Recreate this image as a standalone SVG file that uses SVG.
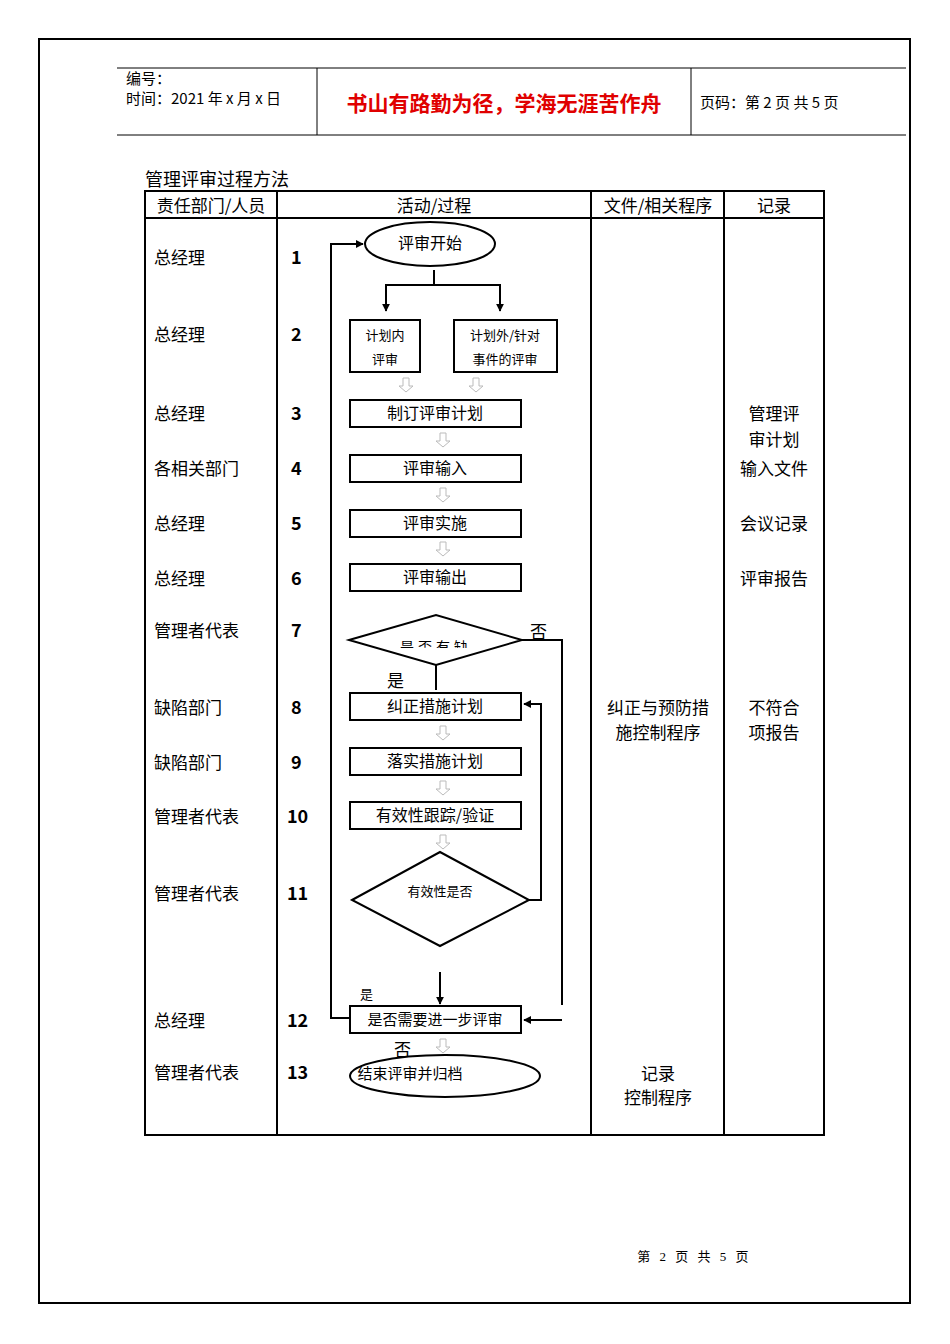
<svg xmlns="http://www.w3.org/2000/svg" width="950" height="1344" viewBox="0 0 950 1344">
<style>
text{font-family:"Noto Sans CJK SC","Liberation Sans",sans-serif;fill:#000}
.s{font-family:"Liberation Serif","Noto Sans CJK SC",serif}
.b{fill:#fff;stroke:#000;stroke-width:2}
.l{fill:none;stroke:#000;stroke-width:2}
.t{font-size:15px}
.n{font-family:"Liberation Sans",sans-serif;font-size:18px;font-weight:bold}
.bx{font-size:16px;text-anchor:middle}
</style>
<defs>
<marker id="a" viewBox="0 0 10 10" refX="9" refY="5" markerWidth="4" markerHeight="4" orient="auto"><path d="M0,0L10,5L0,10z" fill="#000"/></marker>
<symbol id="h" viewBox="0 0 16 16" width="16" height="16"><path d="M5,1H11V9H15L8,15L1,9H5Z" fill="#fff" stroke="#bbb" stroke-width="1"/></symbol>
<clipPath id="c"><rect x="380" y="630" width="120" height="18"/></clipPath>
</defs>
<rect x="39" y="39" width="871" height="1264" fill="none" stroke="#000" stroke-width="2"/>
<g id="header">
<line x1="117" y1="68" x2="906" y2="68" stroke="#000"/>
<line x1="117" y1="135" x2="906" y2="135" stroke="#000"/>
<line x1="317" y1="68" x2="317" y2="135" stroke="#000"/>
<line x1="691" y1="68" x2="691" y2="135" stroke="#000"/>
<text x="126" y="84" class="t">编号：</text>
<text x="126" y="104" class="t">时间：2021 年 x 月 x 日</text>
<text x="504" y="111" text-anchor="middle" style="font-size:21px;font-weight:bold;fill:#e00000">书山有路勤为径，学海无涯苦作舟</text>
<text x="700" y="108" class="t">页码：第 2 页  共 5 页</text>
</g>
<text x="145" y="186" class="s" style="font-size:18px">管理评审过程方法</text>
<g id="table">
<rect x="145" y="191" width="679" height="944" fill="none" stroke="#000" stroke-width="2"/>
<line x1="145" y1="218" x2="824" y2="218" stroke="#000" stroke-width="2"/>
<line x1="277" y1="191" x2="277" y2="1135" stroke="#000" stroke-width="2"/>
<line x1="591" y1="191" x2="591" y2="1135" stroke="#000" stroke-width="2"/>
<line x1="724" y1="191" x2="724" y2="1135" stroke="#000" stroke-width="2"/>
<g class="s" style="font-size:17px" text-anchor="middle">
<text x="211" y="212">责任部门/人员</text><text x="434" y="212">活动/过程</text><text x="658" y="212">文件/相关程序</text><text x="774" y="212">记录</text>
</g>
<g class="s" style="font-size:17px">
<text x="154" y="264">总经理</text><text x="154" y="341">总经理</text><text x="154" y="420">总经理</text><text x="154" y="475">各相关部门</text><text x="154" y="530">总经理</text><text x="154" y="585">总经理</text><text x="154" y="637">管理者代表</text><text x="154" y="714">缺陷部门</text><text x="154" y="769">缺陷部门</text><text x="154" y="823">管理者代表</text><text x="154" y="900">管理者代表</text><text x="154" y="1027">总经理</text><text x="154" y="1079">管理者代表</text>
</g>
<g class="n">
<text x="291" y="264">1</text><text x="291" y="341">2</text><text x="291" y="420">3</text><text x="291" y="475">4</text><text x="291" y="530">5</text><text x="291" y="585">6</text><text x="291" y="637">7</text><text x="291" y="714">8</text><text x="291" y="769">9</text><text x="287" y="823">10</text><text x="287" y="900">11</text><text x="287" y="1027">12</text><text x="287" y="1079">13</text>
</g>
<g class="s" style="font-size:17px" text-anchor="middle">
<text x="774" y="420">管理评</text><text x="774" y="446">审计划</text><text x="774" y="475">输入文件</text><text x="774" y="530">会议记录</text><text x="774" y="585">评审报告</text><text x="774" y="714">不符合</text><text x="774" y="739">项报告</text>
<text x="658" y="714">纠正与预防措</text><text x="658" y="739">施控制程序</text><text x="658" y="1080">记录</text><text x="658" y="1104">控制程序</text>
</g>
</g>
<g id="connectors">
<polyline class="l" points="434,270 434,285 386,285 386,311" marker-end="url(#a)"/>
<polyline class="l" points="434,285 500,285 500,311" marker-end="url(#a)"/>
<polyline class="l" points="350,1018 331,1018 331,244 363,244" marker-end="url(#a)"/>
<line class="l" x1="436" y1="665" x2="436" y2="690"/>
<polyline class="l" points="522,640 562,640 562,1005"/>
<line class="l" x1="562" y1="1020" x2="524" y2="1020" marker-end="url(#a)"/>
<polyline class="l" points="529,900 541,900 541,704 524,704" marker-end="url(#a)"/>
<line class="l" x1="440" y1="972" x2="440" y2="1004" marker-end="url(#a)"/>
<use href="#h" x="398" y="377"/><use href="#h" x="468" y="377"/><use href="#h" x="435" y="432"/><use href="#h" x="435" y="487"/><use href="#h" x="435" y="541"/><use href="#h" x="435" y="725"/><use href="#h" x="435" y="780"/><use href="#h" x="435" y="834"/><use href="#h" x="435" y="1038"/>
<text x="387" y="687" class="s" style="font-size:17px">是</text>
<text x="530" y="638" class="s" style="font-size:17px">否</text>
<text x="360" y="999" class="s" style="font-size:13px">是</text>
<text x="394" y="1056" class="s" style="font-size:17px">否</text>
</g>
<g id="n1"><ellipse class="b" cx="430" cy="244" rx="65" ry="22"/><text x="430" y="249" class="bx">评审开始</text></g>
<g id="n2a"><rect class="b" x="350" y="320" width="70" height="52"/><text x="385" y="340" class="bx" style="font-size:13px">计划内</text><text x="385" y="364" class="bx" style="font-size:13px">评审</text></g>
<g id="n2b"><rect class="b" x="454" y="320" width="103" height="52"/><text x="505" y="340" class="bx" style="font-size:13px">计划外/针对</text><text x="505" y="364" class="bx" style="font-size:13px">事件的评审</text></g>
<g id="n3"><rect class="b" x="350" y="400" width="171" height="27"/><text x="435" y="419" class="bx">制订评审计划</text></g>
<g id="n4"><rect class="b" x="350" y="455" width="171" height="27"/><text x="435" y="474" class="bx">评审输入</text></g>
<g id="n5"><rect class="b" x="350" y="510" width="171" height="27"/><text x="435" y="529" class="bx">评审实施</text></g>
<g id="n6"><rect class="b" x="350" y="564" width="171" height="27"/><text x="435" y="583" class="bx">评审输出</text></g>
<g id="n7"><polygon class="b" points="349,640 436,615 522,640 436,665"/><text x="436" y="652" class="bx" style="font-size:14px;letter-spacing:4px" clip-path="url(#c)">是否有缺</text></g>
<g id="n8"><rect class="b" x="350" y="693" width="171" height="27"/><text x="435" y="712" class="bx">纠正措施计划</text></g>
<g id="n9"><rect class="b" x="350" y="748" width="171" height="27"/><text x="435" y="767" class="bx">落实措施计划</text></g>
<g id="n10"><rect class="b" x="350" y="802" width="171" height="27"/><text x="435" y="821" class="bx">有效性跟踪/验证</text></g>
<g id="n11"><polygon class="b" points="352,900 440,852 529,900 440,946"/><text x="440" y="896" class="bx" style="font-size:13px">有效性是否</text></g>
<g id="n12"><rect class="b" x="350" y="1006" width="171" height="27"/><text x="435" y="1025" class="bx" style="font-size:15px">是否需要进一步评审</text></g>
<g id="n13"><ellipse class="b" cx="445" cy="1076" rx="95" ry="21"/><text x="410" y="1079" class="bx" style="font-size:15px">结束评审并归档</text></g>
<text x="693" y="1261" class="s" text-anchor="middle" style="font-size:13px;word-spacing:6px">第 2 页 共 5 页</text>
</svg>
